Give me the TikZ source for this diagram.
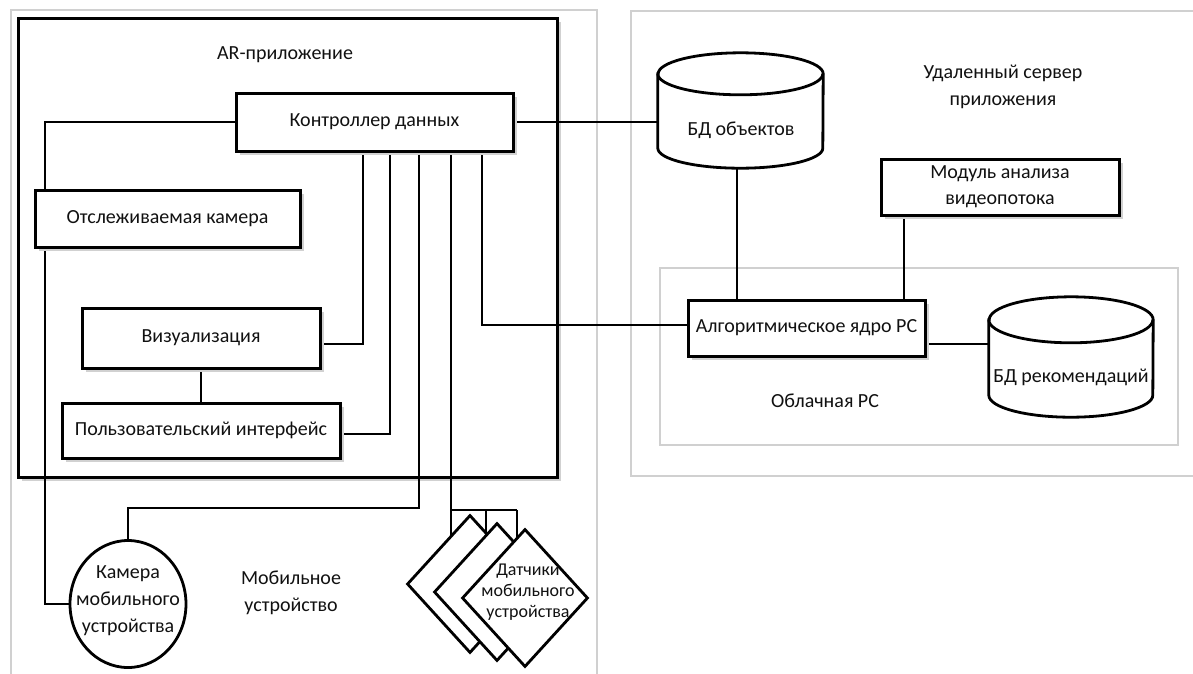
\documentclass[tikz,border=0pt]{standalone}
\usepackage{fontspec}
\setmainfont{Carlito}
\usetikzlibrary{shapes.geometric,shadows}
\definecolor{frame}{HTML}{D0D0D0}
\definecolor{ink}{HTML}{111111}
\begin{document}
\begin{tikzpicture}[x=1pt,y=-1pt,
  every node/.style={font=\fontsize{20}{27}\selectfont, text=ink},
  box/.style={draw=black, line width=3pt, fill=white, inner sep=0pt,
    drop shadow={shadow xshift=4pt, shadow yshift=-4pt, fill=black!18, opacity=1}},
  conn/.style={draw=black, line width=2.5pt},
  grayframe/.style={draw=frame, line width=2.6pt},
  cyl/.style={draw=black, line width=2.8pt, fill=white},
  shapeborder/.style={draw=black, line width=2.8pt, fill=white, inner sep=0pt},
  anchorbox/.style={inner sep=0pt, draw=none}]
\clip (0,0) rectangle (1193,673);
\fill[white] (0,0) rectangle (1193,673);

% containers
\draw[grayframe] (11,10) rectangle (597,700);
\draw[grayframe] (631,11) rectangle (1205,476);
\draw[grayframe] (660,268) rectangle (1178,445);
\node[box, minimum width=539pt, minimum height=459pt] (ar) at (287.5,247.5) {};

% labels of containers
\node at (285,55) {AR-приложение};
\node[align=center] at (1003,87) {Удаленный сервер\\приложения};
\node at (825,401) {Облачная РС};
\node[align=center] at (291,593) {Мобильное\\устройство};

% nodes (anchors first for connectors)
\node[anchorbox, minimum width=277pt, minimum height=58pt] (ctrl) at (374.5,122) {};
\node[anchorbox, minimum width=265pt, minimum height=57pt] (trk) at (167.5,218.5) {};
\node[anchorbox, minimum width=238pt, minimum height=60pt] (vis) at (201,338) {};
\node[anchorbox, minimum width=278pt, minimum height=55pt] (pui) at (201,430.5) {};
\node[anchorbox, minimum width=238pt, minimum height=56pt] (mod) at (1000,187) {};
\node[anchorbox, minimum width=237pt, minimum height=56pt] (alg) at (806.5,328) {};
\node[anchorbox, minimum width=165pt, minimum height=115pt] (dbo) at (740.5,110.5) {};
\node[anchorbox, minimum width=164pt, minimum height=120pt] (dbr) at (1071,357) {};
\node[anchorbox, minimum width=116pt, minimum height=127pt] (cam) at (128,604) {};
\node[anchorbox, minimum width=126pt, minimum height=138pt] (d1) at (470,584) {};
\node[anchorbox, minimum width=126pt, minimum height=138pt] (d2) at (497,592) {};
\node[anchorbox, minimum width=126pt, minimum height=138pt] (d3) at (525,598) {};
\coordinate (jc) at (128,508);
\coordinate (js1) at (451,510);
\coordinate (js2) at (486,510);
\coordinate (js3) at (517,510);

% connectors
\draw[conn] (ctrl.west) -- ++(-191,0) |- (cam.west);
\draw[conn] ([xshift=-11.5pt]ctrl.south) |- ([yshift=-6pt]vis.east);
\draw[conn] ([xshift=15.5pt]ctrl.south) |- ([yshift=-3.5pt]pui.east);
\draw[conn] ([xshift=44.5pt]ctrl.south) |- (jc) -- (cam.north);
\draw[conn] ([xshift=76.5pt]ctrl.south) -- (js1) -- (js3);
\draw[conn] (js1) -- (js1 |- d1.center);
\draw[conn] (js2) -- (js2 |- d2.center);
\draw[conn] (js3) -- (js3 |- d3.center);
\draw[conn] ([xshift=107.5pt]ctrl.south) |- ([yshift=3pt]alg.west);
\draw[conn] (ctrl.east) -- (ctrl.east -| dbo.west);
\draw[conn] ([xshift=-3.5pt]dbo.south) coordinate (ob) -- (ob |- alg.north);
\draw[conn] ([xshift=-96pt]mod.south) coordinate (mb) -- (mb |- alg.north);
\draw[conn] ([yshift=-16pt]alg.east) coordinate (ae) -- (ae -| dbr.west);
\draw[conn] (vis.south) -- (vis.south |- pui.north);

% boxes
\node[box, minimum width=277pt, minimum height=58pt] at (ctrl) {Контроллер данных};
\node[box, minimum width=265pt, minimum height=57pt] at (trk) {Отслеживаемая камера};
\node[box, minimum width=238pt, minimum height=60pt] at (vis) {Визуализация};
\node[box, minimum width=278pt, minimum height=55pt] at (pui) {Пользовательский интерфейс};
\node[box, minimum width=238pt, minimum height=56pt, align=center] at (mod) {Модуль анализа\\[-1pt]видеопотока};
\node[box, minimum width=237pt, minimum height=56pt] at (alg) {Алгоритмическое ядро РС};

% cylinders
\draw[cyl] ([yshift=-21pt]dbo.north west) -- ([yshift=20pt]dbo.south west)
  arc[start angle=180,end angle=360,x radius=82.5pt,y radius=20pt]
  -- ([yshift=-21pt]dbo.north east)
  arc[start angle=0,end angle=180,x radius=82.5pt,y radius=21pt] -- cycle;
\draw[cyl, fill=none] ([yshift=-21pt]dbo.north west)
  arc[start angle=180,end angle=360,x radius=82.5pt,y radius=21pt];
\node at (741,130) {БД объектов};

\draw[cyl] ([yshift=-23pt]dbr.north west) -- ([yshift=22pt]dbr.south west)
  arc[start angle=180,end angle=360,x radius=82pt,y radius=22pt]
  -- ([yshift=-23pt]dbr.north east)
  arc[start angle=0,end angle=180,x radius=82pt,y radius=23pt] -- cycle;
\draw[cyl, fill=none] ([yshift=-23pt]dbr.north west)
  arc[start angle=180,end angle=360,x radius=82pt,y radius=23pt];
\node at (1071,377) {БД рекомендаций};

% camera
\node[shapeborder, ellipse, minimum width=116pt, minimum height=127pt] at (cam) {};
\node[align=center] at (128,601) {Камера\\мобильного\\устройства};

% sensors
\node[shapeborder, diamond, minimum width=126pt, minimum height=138pt] at (d1) {};
\node[shapeborder, diamond, minimum width=126pt, minimum height=138pt] at (d2) {};
\node[shapeborder, diamond, minimum width=126pt, minimum height=138pt] at (d3) {};
\node[align=center, font=\fontsize{18}{21}\selectfont] at (528,592) {Датчики\\мобильного\\устройства};
\end{tikzpicture}
\end{document}
